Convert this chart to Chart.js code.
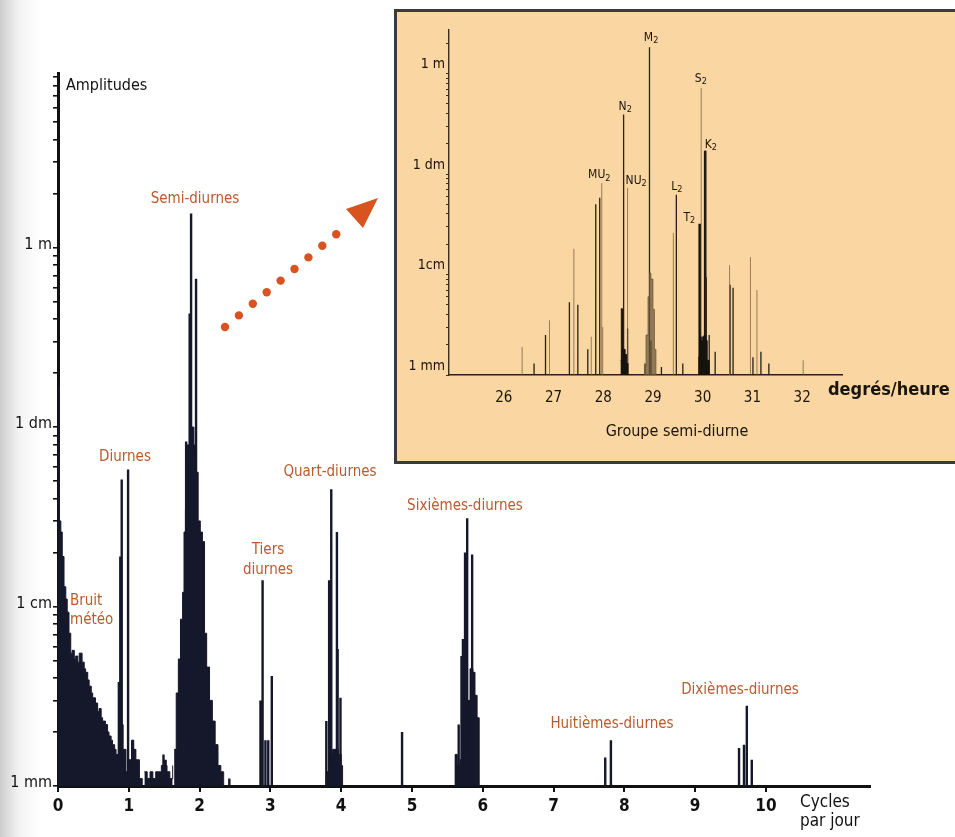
<!DOCTYPE html>
<html><head><meta charset="utf-8">
<script src="https://cdn.jsdelivr.net/npm/chart.js@4.4.1/dist/chart.umd.min.js"></script>
<style>
html,body{margin:0;padding:0;background:#fff;width:955px;height:837px;overflow:hidden;position:relative;}
#shade{position:absolute;left:0;top:0;width:60px;height:837px;background:linear-gradient(to right, rgba(110,110,110,0.35), rgba(150,150,150,0.12) 18px, rgba(255,255,255,0) 42px);}
#main{position:absolute;left:0;top:0;}
#insetBox{position:absolute;left:394px;top:9px;width:580px;height:455px;box-sizing:border-box;border:3px solid #3b3b3b;background:#f9d6a2;}
#inset{position:absolute;left:395px;top:10px;}
</style></head>
<body>
<div id="shade"></div>
<canvas id="main" width="955" height="837"></canvas>
<div id="insetBox"></div>
<canvas id="inset" width="560" height="452"></canvas>
<script>
// ---------- MAIN CHART DATA (cycles per day, amplitude in metres) ----------
const mainXTicks = [0,1,2,3,4,5,6,7,8,9,10];
const mainYTicks = [0.001,0.002,0.003,0.004,0.005,0.006,0.007,0.008,0.009,
                    0.01,0.02,0.03,0.04,0.05,0.06,0.07,0.08,0.09,
                    0.1,0.2,0.3,0.4,0.5,0.6,0.7,0.8,0.9,
                    1,2,3,4,5,6,7,8,9];
const mainYLabels = {0.001:'1 mm', 0.01:'1 cm', 0.1:'1 dm', 1:'1 m'};

// low-frequency "bruit météo" continuum
const noiseFreq = [0,0.005,0.02,0.04,0.06,0.085,0.11,0.13,0.155,0.18,0.20,0.23,0.25,0.28,0.30,0.34,0.37,0.39,0.42,0.44,0.47,0.49,0.53,0.56,0.58,0.61,0.63,0.67,0.70,0.72,0.75,0.77,0.80,0.82,0.85,0.88,0.92,0.96,1.00,1.04,1.07,1.10,1.15,1.19];
const noiseAmp  = [0.03,0.0276,0.03,0.026,0.019,0.0129,0.011,0.0093,0.0071,0.0055,0.0057,0.0051,0.0053,0.0049,0.0055,0.0049,0.0045,0.0043,0.0039,0.0036,0.0033,0.0031,0.0029,0.0026,0.0027,0.0024,0.0023,0.0022,0.0020,0.0019,0.0018,0.0017,0.0016,0.0015,0.0014,0.0022,0.0016,0.0012,0.0014,0.0018,0.0016,0.0014,0.0011,0.001];
const lowFreq = [1.22,1.26,1.30,1.34,1.38,1.42,1.46,1.50,1.54,1.58,1.62];
const lowAmp  = [0.0012,0.0011,0.0012,0.0011,0.0012,0.0012,0.0013,0.0013,0.0012,0.0011,0.0013];
// semi-diurnal, quarter-diurnal and sixth-diurnal clusters (continuum part)
const semiFreq = [1.64,1.67,1.70,1.73,1.76,1.78,1.80,1.83,1.86,1.89,1.92,1.95,1.98,2.01,2.04,2.07,2.10,2.14,2.18,2.22,2.26,2.30,2.34];
const semiAmp  = [0.0016,0.0033,0.0051,0.0085,0.012,0.026,0.035,0.06,0.09,0.1,0.07,0.056,0.03,0.026,0.023,0.0071,0.0046,0.003,0.0023,0.0017,0.0013,0.0012,0.001];
const quartFreq = [3.80,3.84,3.88,3.92,3.96,4.00,4.02];
const quartAmp  = [0.0012,0.0015,0.0016,0.0016,0.0015,0.0013,0.001];
const sixthFreq = [5.61,5.64,5.68,5.72,5.76,5.79,5.82,5.86,5.89,5.92,5.95];
const sixthAmp  = [0.0015,0.0013,0.0014,0.0016,0.0019,0.0030,0.0045,0.0043,0.0032,0.0024,0.001];
// individual spectral lines
const lineFreq = [0.01,0.86,0.88,0.90,0.99,1.05,1.49,1.52,1.81,1.83,1.86,1.88,1.92,1.95,2.04,2.42,2.86,2.89,2.93,2.97,3.02,3.79,3.83,3.86,3.94,3.95,3.99,4.86,5.62,5.66,5.70,5.72,5.75,5.78,5.85,5.87,5.92,7.73,7.81,9.62,9.69,9.73,9.80];
const lineAmp  = [0.17,0.0038,0.019,0.051,0.058,0.0018,0.0015,0.0014,0.083,0.08,0.43,1.55,0.08,0.67,0.023,0.0011,0.003,0.014,0.0018,0.0018,0.0041,0.0023,0.014,0.045,0.026,0.0058,0.0031,0.002,0.0015,0.0022,0.0053,0.0066,0.020,0.031,0.0195,0.0043,0.0024,0.00144,0.0018,0.00163,0.0017,0.0028,0.0014];

// ---------- INSET DATA (degrees per hour, amplitude in metres) ----------
const insetXTicks = [26,27,28,29,30,31,32];
const insetYTicks = [0.001,0.002,0.003,0.004,0.005,0.006,0.007,0.008,0.009,
                     0.01,0.02,0.03,0.04,0.05,0.06,0.07,0.08,0.09,
                     0.1,0.2,0.3,0.4,0.5,0.6,0.7,0.8,0.9,1,2];
const insetYLabels = {0.001:'1 mm', 0.01:'1cm', 0.1:'1 dm', 1:'1 m'};
const darkFreq = [26.61,26.84,27.32,27.49,27.69,27.85,27.93,28.37,28.41,28.49,28.84,28.93,28.96,29.17,29.47,29.60,30.05,30.07,30.13,30.25,30.55,30.61,31.01,31.17,31.33];
const darkAmp  = [0.0013,0.0025,0.0053,0.005,0.0018,0.05,0.058,0.0046,0.39,0.0029,0.0013,1.83,0.0022,0.0012,0.062,0.0013,0.17,0.0094,0.0025,0.0017,0.0079,0.0074,0.0015,0.0017,0.0013];
const faintFreq = [26.37,26.92,27.41,27.76,27.97,27.99,28.49,29.41,29.97,30.54,30.96,31.09,32.02];
const faintAmp  = [0.0019,0.0035,0.018,0.0024,0.081,0.003,0.073,0.026,0.72,0.0124,0.0149,0.007,0.0014];
const thickFreq = [28.38,29.94,30.05];
const thickAmp  = [0.0046,0.032,0.17];
const m2Freq = [28.82,28.86,28.90,28.93,28.96,29.00,29.03,29.06];
const m2Amp  = [0.0012,0.0025,0.006,0.0103,0.009,0.0045,0.0018,0.001];
const baseFreq = [28.35,28.38,28.41,28.44,28.47,28.50];
const baseAmp  = [0.0014,0.0018,0.0018,0.0016,0.0013,0.001];
const s2Freq = [29.91,29.94,29.97,30.00,30.03,30.06,30.09,30.13];
const s2Amp  = [0.0015,0.0024,0.0022,0.0024,0.0025,0.0022,0.0014,0.001];
const consName = ['M','N','MU','NU','L','T','S','K'];
const consFreq = [28.93,28.41,27.93,28.49,29.47,29.94,29.97,30.05];
const consAmp  = [1.83,0.39,0.081,0.073,0.062,0.032,0.72,0.17];

// ---------- helpers ----------
const FONT = "'Liberation Sans Narrow','DejaVu Sans Condensed','Roboto Condensed',sans-serif";
const FLOOR = 0.001;
function pts(fx, fy){ return fx.map((x,i)=>({x, y:fy[i]})); }
function spikes(fx, fy){ const out=[]; fx.forEach((x,i)=>{ out.push({x,y:FLOOR},{x,y:fy[i]},{x,y:null}); }); return out; }
function txt(ctx, s, x, y, size, color, align, weight){
  ctx.save(); ctx.font = (weight||'normal')+' '+size+'px '+FONT;
  ctx.fillStyle=color; ctx.textAlign=align||'left'; ctx.textBaseline='middle';
  ctx.fillText(s,x,y); ctx.restore();
}
const ORANGE = '#b95a2d', INK = '#15172a';

function fillSet(data, color){ return {data, fill:'start', stepped:true, borderColor:color, backgroundColor:color, borderWidth:1, pointRadius:0}; }
function lineSet(data, color, w){ return {data, fill:false, borderColor:color, borderWidth:w, pointRadius:0, spanGaps:false}; }

// ---------- MAIN CHART ----------
const mainDeco = {
  id:'mainDeco',
  afterDraw(chart){
    const c = chart.ctx;
    txt(c,'Amplitudes',66,86,16,'#111','left');
    const lab = [
      ['Semi-diurnes',195,199,'center'],['Diurnes',125,457,'center'],
      ['Bruit',70,601,'left'],['météo',70,620,'left'],
      ['Tiers',268,550,'center'],['diurnes',268,570,'center'],
      ['Quart-diurnes',330,472,'center'],['Sixièmes-diurnes',465,506,'center'],
      ['Huitièmes-diurnes',612,724,'center'],['Dixièmes-diurnes',740,690,'center']
    ];
    lab.forEach(l=>txt(c,l[0],l[1],l[2],15,ORANGE,l[3]));
    txt(c,'Cycles',800,803,17,'#111','left');
    txt(c,'par jour',800,822,17,'#111','left');
    // dotted arrow
    c.save(); c.fillStyle='#d8531f';
    for(let i=0;i<9;i++){ c.beginPath(); c.arc(225+i*13.9,327-i*11.6,4.2,0,Math.PI*2); c.fill(); }
    c.beginPath(); c.moveTo(378,198); c.lineTo(363,228); c.lineTo(346,209); c.closePath(); c.fill();
    c.restore();
  }
};

new Chart(document.getElementById('main'), {
  type:'line',
  data:{datasets:[
    fillSet(pts(noiseFreq,noiseAmp), INK),
    fillSet(pts(lowFreq,lowAmp), INK),
    fillSet(pts(semiFreq,semiAmp), INK),
    fillSet(pts(quartFreq,quartAmp), INK),
    fillSet(pts(sixthFreq,sixthAmp), INK),
    lineSet(spikes(lineFreq,lineAmp), INK, 2.4)
  ]},
  options:{
    responsive:false, animation:false, events:[],
    layout:{padding:{left:0,top:73,right:85,bottom:0}},
    plugins:{legend:{display:false},tooltip:{enabled:false}},
    scales:{
      x:{type:'linear',min:0,max:11.47,
        afterBuildTicks:a=>{a.ticks=mainXTicks.map(v=>({value:v}));},
        afterFit:a=>{a.height=51;},
        grid:{drawOnChartArea:false,tickLength:6,color:'#111',lineWidth:2},
        border:{display:true,color:'#111',width:3},
        ticks:{color:'#111',font:{family:FONT,size:17,weight:'bold'},padding:4,maxRotation:0,autoSkip:false}},
      y:{type:'logarithmic',min:0.001,max:9.4,
        afterBuildTicks:a=>{a.ticks=mainYTicks.map(v=>({value:v}));},
        afterFit:a=>{a.width=58;},
        grid:{drawOnChartArea:false,tickLength:5,color:'#111',lineWidth:1.6},
        border:{display:true,color:'#111',width:3},
        ticks:{color:'#111',font:{family:FONT,size:16},padding:1,labelOffset:-3,autoSkip:false,
          callback:v=>mainYLabels[v]||''}}
    }
  },
  plugins:[mainDeco]
});

// ---------- INSET CHART ----------
const insetDeco = {
  id:'insetDeco',
  afterDraw(chart){
    const c = chart.ctx, xs = chart.scales.x, ys = chart.scales.y;
    const dx = [2,2,0,9,1,-10,0,6], dy = [-9,-8,-8,-7,-8,-6,-9,-6];
    consName.forEach((n,i)=>{
      const x = xs.getPixelForValue(consFreq[i])+dx[i], y = ys.getPixelForValue(consAmp[i])+dy[i];
      c.save(); c.font='12px '+FONT; c.fillStyle='#1a140c'; c.textBaseline='middle';
      const w = c.measureText(n).width, w2 = 6;
      const x0 = x-(w+w2)/2;
      c.fillText(n,x0,y); c.font='9px '+FONT; c.fillText('2',x0+w,y+3); c.restore();
    });
    txt(c,'degrés/heure',433,380,18,'#1a140c','left','bold');
    txt(c,'Groupe semi-diurne',282,422,16,'#1a140c','center');
  }
};
new Chart(document.getElementById('inset'), {
  type:'line',
  data:{datasets:[
    fillSet(pts(m2Freq,m2Amp),'rgba(110,88,60,0.75)'),
    fillSet(pts(baseFreq,baseAmp),'#16120c'),
    fillSet(pts(s2Freq,s2Amp),'#16120c'),
    lineSet(spikes(faintFreq,faintAmp),'rgba(120,95,60,0.75)',1),
    lineSet(spikes(darkFreq,darkAmp),'#2a2014',1.3),
    lineSet(spikes(thickFreq,thickAmp),'#16120c',2.6)
  ]},
  options:{
    responsive:false, animation:false, events:[],
    layout:{padding:{left:0,top:20,right:113,bottom:0}},
    plugins:{legend:{display:false},tooltip:{enabled:false}},
    scales:{
      x:{type:'linear',min:24.9,max:32.8,
        afterBuildTicks:a=>{a.ticks=insetXTicks.map(v=>({value:v}));},
        afterFit:a=>{a.height=87;},
        grid:{display:false},
        border:{display:true,color:'#2a2014',width:1.6},
        ticks:{color:'#1a140c',font:{family:FONT,size:15},padding:6,maxRotation:0,autoSkip:false}},
      y:{type:'logarithmic',min:0.001,max:2.71,
        afterBuildTicks:a=>{a.ticks=insetYTicks.map(v=>({value:v}));},
        afterFit:a=>{a.width=54;},
        grid:{drawOnChartArea:false,tickLength:3,color:'#3a2e1e',lineWidth:1},
        border:{display:true,color:'#3a2e1e',width:1.4},
        ticks:{color:'#1a140c',font:{family:FONT,size:14},padding:1,labelOffset:-9,autoSkip:false,
          callback:v=>insetYLabels[v]||''}}
    }
  },
  plugins:[insetDeco]
});
</script>
</body></html>
